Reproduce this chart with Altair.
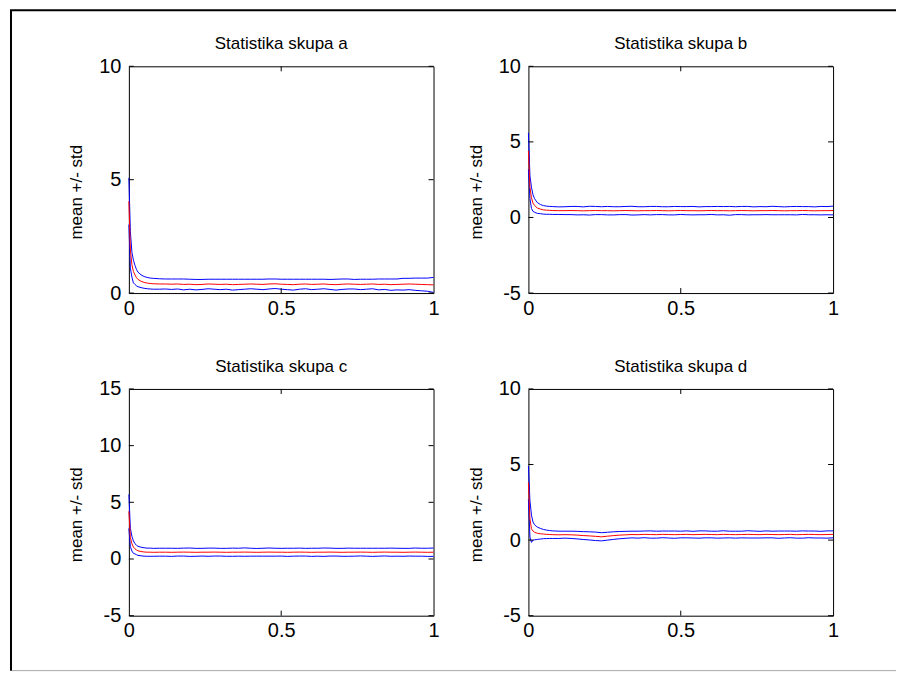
import altair as alt
import pandas as pd

X = [0.0, 0.005, 0.01, 0.015, 0.02, 0.025, 0.03, 0.04, 0.05, 0.06, 0.07, 0.08, 0.10,
     0.12, 0.14, 0.16, 0.18, 0.20, 0.22, 0.24, 0.26, 0.28, 0.30,
     0.32, 0.34, 0.36, 0.38, 0.40, 0.42, 0.44, 0.46, 0.48, 0.50,
     0.52, 0.54, 0.56, 0.58, 0.60, 0.62, 0.64, 0.66, 0.68, 0.70,
     0.72, 0.74, 0.76, 0.78, 0.80, 0.82, 0.84, 0.86, 0.88, 0.90,
     0.92, 0.94, 0.96, 0.98, 1.00]

MEAN_A = [4.05, 1.9, 1.25, 0.95, 0.8, 0.68, 0.6, 0.52, 0.47, 0.44, 0.42, 0.41, 0.40,
          0.40, 0.39, 0.40, 0.38, 0.39, 0.37, 0.38, 0.40, 0.39, 0.38,
          0.39, 0.37, 0.38, 0.39, 0.40, 0.39, 0.38, 0.40, 0.41, 0.39,
          0.38, 0.37, 0.39, 0.40, 0.38, 0.39, 0.40, 0.38, 0.37, 0.39,
          0.40, 0.39, 0.38, 0.39, 0.40, 0.38, 0.39, 0.37, 0.38, 0.39,
          0.40, 0.39, 0.38, 0.37, 0.36]
STD_A = [1.03, 0.8, 0.55, 0.5, 0.42, 0.36, 0.32, 0.28, 0.26, 0.25, 0.24, 0.24, 0.23,
         0.22, 0.23, 0.22, 0.24, 0.22, 0.23, 0.22, 0.21, 0.22, 0.23,
         0.22, 0.24, 0.23, 0.22, 0.21, 0.22, 0.23, 0.22, 0.21, 0.22,
         0.23, 0.24, 0.22, 0.21, 0.23, 0.22, 0.21, 0.22, 0.24, 0.23,
         0.22, 0.21, 0.23, 0.22, 0.21, 0.24, 0.23, 0.25, 0.24, 0.26,
         0.25, 0.27, 0.28, 0.29, 0.33]

MEAN_B = [4.4, 2.0, 1.3, 0.95, 0.8, 0.7, 0.62, 0.55, 0.5, 0.48, 0.47, 0.46, 0.45,
          0.45, 0.46, 0.45, 0.44, 0.45, 0.46, 0.45, 0.45, 0.44, 0.45,
          0.46, 0.45, 0.44, 0.45, 0.45, 0.46, 0.45, 0.44, 0.45, 0.46,
          0.45, 0.45, 0.44, 0.45, 0.46, 0.45, 0.45, 0.44, 0.45, 0.46,
          0.45, 0.44, 0.45, 0.45, 0.46, 0.45, 0.44, 0.45, 0.45, 0.46,
          0.45, 0.44, 0.45, 0.45, 0.46]
STD_B = [1.2, 0.75, 0.7, 0.55, 0.45, 0.4, 0.35, 0.3, 0.28, 0.27, 0.26, 0.26, 0.25,
         0.26, 0.27, 0.28, 0.26, 0.29, 0.27, 0.26, 0.28, 0.27, 0.26,
         0.27, 0.29, 0.27, 0.26, 0.28, 0.27, 0.26, 0.27, 0.28, 0.26,
         0.27, 0.28, 0.26, 0.27, 0.26, 0.28, 0.27, 0.29, 0.26, 0.27,
         0.28, 0.26, 0.27, 0.26, 0.28, 0.27, 0.26, 0.27, 0.28, 0.26,
         0.27, 0.26, 0.28, 0.27, 0.29]

MEAN_C = [4.2, 1.9, 1.35, 1.05, 0.9, 0.8, 0.72, 0.66, 0.62, 0.6, 0.6, 0.59, 0.6,
          0.60, 0.59, 0.60, 0.61, 0.60, 0.59, 0.60, 0.60, 0.61, 0.60,
          0.59, 0.60, 0.60, 0.61, 0.60, 0.59, 0.60, 0.61, 0.60, 0.60,
          0.59, 0.60, 0.61, 0.60, 0.59, 0.60, 0.60, 0.61, 0.60, 0.59,
          0.60, 0.60, 0.61, 0.60, 0.59, 0.60, 0.61, 0.60, 0.60, 0.59,
          0.60, 0.61, 0.60, 0.59, 0.60]
STD_C = [1.5, 0.8, 0.65, 0.55, 0.45, 0.42, 0.4, 0.38, 0.37, 0.36, 0.36, 0.35, 0.35,
         0.35, 0.36, 0.34, 0.35, 0.37, 0.35, 0.34, 0.36, 0.35, 0.34,
         0.35, 0.36, 0.35, 0.37, 0.35, 0.34, 0.35, 0.36, 0.35, 0.34,
         0.36, 0.35, 0.35, 0.34, 0.36, 0.35, 0.37, 0.35, 0.34, 0.35,
         0.36, 0.35, 0.34, 0.35, 0.36, 0.35, 0.34, 0.36, 0.35, 0.35,
         0.34, 0.36, 0.35, 0.36, 0.37]

MEAN_D = [3.8, 1.4, 0.75, 0.6, 0.52, 0.48, 0.45, 0.42, 0.4, 0.38, 0.37, 0.36, 0.35,
          0.36, 0.35, 0.33, 0.30, 0.28, 0.25, 0.22, 0.26, 0.30, 0.33,
          0.35, 0.37, 0.36, 0.38, 0.37, 0.36, 0.38, 0.37, 0.36, 0.37,
          0.38, 0.36, 0.37, 0.38, 0.37, 0.36, 0.38, 0.37, 0.36, 0.37,
          0.38, 0.37, 0.36, 0.38, 0.37, 0.36, 0.37, 0.38, 0.36, 0.37,
          0.38, 0.37, 0.36, 0.37, 0.38]
STD_D = [1.1, 1.2, 0.9, 0.6, 0.5, 0.45, 0.4, 0.35, 0.3, 0.28, 0.26, 0.25, 0.24,
         0.23, 0.24, 0.25, 0.26, 0.27, 0.28, 0.27, 0.26, 0.25, 0.24,
         0.23, 0.22, 0.23, 0.22, 0.24, 0.23, 0.22, 0.23, 0.24, 0.22,
         0.23, 0.22, 0.24, 0.23, 0.22, 0.23, 0.24, 0.22, 0.23, 0.22,
         0.24, 0.23, 0.22, 0.23, 0.22, 0.24, 0.23, 0.22, 0.23, 0.24,
         0.22, 0.23, 0.22, 0.24, 0.23]

TITLES = ["Statistika skupa a", "Statistika skupa b", "Statistika skupa c", "Statistika skupa d"]
Y_DOMAINS = [[0, 10], [-5, 10], [-5, 15], [-5, 10]]
Y_TICKS = [[0, 5, 10], [-5, 0, 5, 10], [-5, 0, 5, 10, 15], [-5, 0, 5, 10]]
X_TICKS = [0, 0.5, 1]

W, H = 305, 227
FONT = "Liberation Sans"
TICK = 5


def panel(title, mean, std, ydom, yticks, border=False):
    df = pd.DataFrame({"x": X, "mean": mean, "std": std})
    df["upper"] = df["mean"] + df["std"]
    df["lower"] = df["mean"] - df["std"]
    blue = df.melt(id_vars="x", value_vars=["upper", "lower"], var_name="s", value_name="v")

    xs = alt.Scale(domain=[0, 1], nice=False, zero=False)
    ys = alt.Scale(domain=ydom, nice=False, zero=False)
    xaxis = alt.Axis(values=X_TICKS, format="~g", ticks=False, domain=False, grid=False,
                     labelFlush=False, labelPadding=5, title=None)
    yaxis = alt.Axis(values=yticks, labelExpr="'' + datum.value", ticks=False, domain=False,
                     grid=False, labelPadding=8, title="mean +/- std", titleBaseline="middle",
                     titleX=-52, titleY=H / 2 + 12)

    lines_b = alt.Chart(blue).mark_line(color="#0000ff", strokeWidth=1).encode(
        x=alt.X("x:Q", scale=xs, axis=xaxis),
        y=alt.Y("v:Q", scale=ys, axis=yaxis),
        detail="s:N",
    )
    line_r = alt.Chart(df).mark_line(color="#ff0000", strokeWidth=1).encode(
        x=alt.X("x:Q", scale=xs, axis=xaxis),
        y=alt.Y("mean:Q", scale=ys, axis=yaxis),
    )
    ydf = pd.DataFrame({"t": yticks})
    xdf = pd.DataFrame({"t": [0.5]})
    tl = alt.Chart(ydf).mark_rule(color="black", strokeWidth=1).encode(
        y=alt.Y("t:Q", scale=ys, axis=yaxis), x=alt.value(0), x2=alt.value(TICK))
    tr = alt.Chart(ydf).mark_rule(color="black", strokeWidth=1).encode(
        y=alt.Y("t:Q", scale=ys, axis=yaxis), x=alt.value(W - TICK), x2=alt.value(W))
    tb = alt.Chart(xdf).mark_rule(color="black", strokeWidth=1).encode(
        x=alt.X("t:Q", scale=xs, axis=xaxis), y=alt.value(H - TICK), y2=alt.value(H))
    tt = alt.Chart(xdf).mark_rule(color="black", strokeWidth=1).encode(
        x=alt.X("t:Q", scale=xs, axis=xaxis), y=alt.value(0), y2=alt.value(TICK))
    one = pd.DataFrame({"k": [0]})
    ttl = alt.Chart(one).mark_text(font=FONT, fontSize=17, color="black", align="center",
                                   baseline="middle").encode(
        x=alt.value(W / 2), y=alt.value(-22), text=alt.value(title))
    layers = [lines_b, line_r, tl, tr, tb, tt, ttl]
    if border:
        left = alt.Chart(one).mark_rule(color="black", strokeWidth=2).encode(
            x=alt.value(-118), y=alt.value(-56), y2=alt.value(605))
        top = alt.Chart(one).mark_rule(color="black", strokeWidth=2).encode(
            y=alt.value(-56), x=alt.value(-119), x2=alt.value(768))
        bottom = alt.Chart(one).mark_rule(color="#a8a8a8", strokeWidth=1).encode(
            y=alt.value(605), x=alt.value(-117), x2=alt.value(768))
        layers += [left, top, bottom]
    return alt.layer(*layers).properties(width=W, height=H)


pa = panel(TITLES[0], MEAN_A, STD_A, Y_DOMAINS[0], Y_TICKS[0], border=True)
pb = panel(TITLES[1], MEAN_B, STD_B, Y_DOMAINS[1], Y_TICKS[1])
pc = panel(TITLES[2], MEAN_C, STD_C, Y_DOMAINS[2], Y_TICKS[2])
pdd = panel(TITLES[3], MEAN_D, STD_D, Y_DOMAINS[3], Y_TICKS[3])

chart = alt.concat(pa, pb, pc, pdd, columns=2, spacing={"row": 96, "column": 95},
                   bounds="flush").properties(
    padding=0, background="white"
).configure_view(
    stroke="black", strokeWidth=1
).configure_axis(
    labelFont=FONT, labelFontSize=20, labelColor="black",
    titleFont=FONT, titleFontSize=17, titleFontWeight="normal", titleColor="black",
)

chart.save("out.html", embed_options={"renderer": "svg", "actions": False})
